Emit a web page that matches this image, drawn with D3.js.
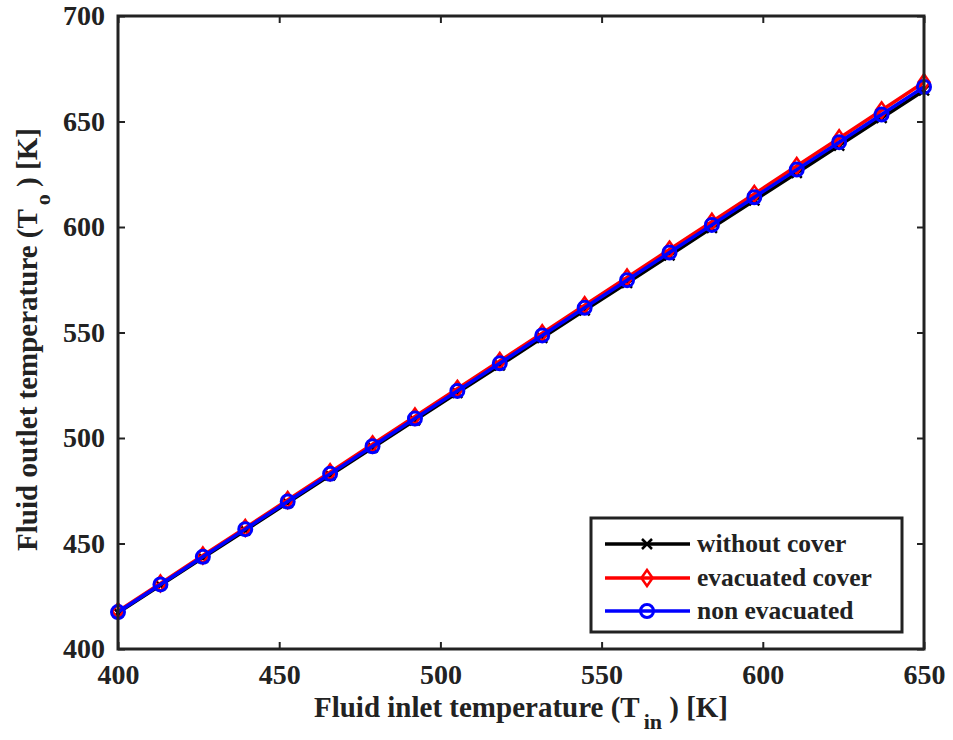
<!DOCTYPE html>
<html>
<head>
<meta charset="utf-8">
<script src="https://cdn.jsdelivr.net/npm/d3@7"></script>
<style>
body{margin:0;background:#fff;}
text{font-family:"Liberation Serif","Times New Roman",serif;font-weight:bold;fill:#222;}
</style>
</head>
<body>
<svg id="chart" width="953" height="740"></svg>
<script>
const inletT = [400, 413.16, 426.32, 439.47, 452.63, 465.79, 478.95, 492.11, 505.26, 518.42, 531.58, 544.74, 557.89, 571.05, 584.21, 597.37, 610.53, 623.68, 636.84, 650];
const withoutCover = [417.2, 430.2, 443.2, 456.2, 469.3, 482.3, 495.4, 508.4, 521.4, 534.4, 547.5, 560.5, 573.5, 586.5, 599.6, 612.6, 625.6, 638.6, 651.7, 664.7];
const evacuatedCover = [417.9, 431.1, 444.3, 457.4, 470.6, 483.8, 497.0, 510.2, 523.3, 536.5, 549.7, 562.9, 576.1, 589.3, 602.5, 615.7, 628.9, 642.1, 655.3, 668.6];
const nonEvacuated = [417.5, 430.6, 443.7, 456.8, 469.9, 483.0, 496.1, 509.2, 522.3, 535.4, 548.6, 561.7, 574.8, 587.9, 601.0, 614.1, 627.2, 640.2, 653.3, 666.4];
const xTicks = [400, 450, 500, 550, 600, 650];
const yTicks = [400, 450, 500, 550, 600, 650, 700];
const seriesNames = ["without cover", "evacuated cover", "non evacuated"];
const seriesColors = ["#000000", "#ff0000", "#0000ff"];
const seriesMarkers = ["x", "diamond", "circle"];

const svg = d3.select("#chart");
const L = 118, R = 924, T = 16, B = 649;
const x = d3.scaleLinear().domain([400, 650]).range([L, R]);
const y = d3.scaleLinear().domain([400, 700]).range([B, T]);

const tickLen = 7;
const axisCol = "#222";
const tickFont = 28;
const gAx = svg.append("g");
gAx.append("g").attr("transform", `translate(0,${B})`)
  .call(d3.axisBottom(x).tickValues(xTicks).tickSizeInner(-tickLen).tickSizeOuter(0).tickPadding(15).tickFormat(d3.format("d")))
  .call(g => { g.select(".domain").remove(); g.selectAll("line").attr("stroke", axisCol).attr("stroke-width", 2);
    g.selectAll("text").attr("font-size", tickFont).attr("font-family", "Liberation Serif").attr("font-weight", "bold").attr("fill", "#222").attr("dy", "0.71em"); });
gAx.append("g").attr("transform", `translate(0,${T})`)
  .call(d3.axisTop(x).tickValues(xTicks).tickSizeInner(-tickLen).tickSizeOuter(0).tickFormat(""))
  .call(g => { g.select(".domain").remove(); g.selectAll("line").attr("stroke", axisCol).attr("stroke-width", 2); });
gAx.append("g").attr("transform", `translate(${L},0)`)
  .call(d3.axisLeft(y).tickValues(yTicks).tickSizeInner(-tickLen).tickSizeOuter(0).tickPadding(13).tickFormat(d3.format("d")))
  .call(g => { g.select(".domain").remove(); g.selectAll("line").attr("stroke", axisCol).attr("stroke-width", 2);
    g.selectAll("text").attr("font-size", tickFont).attr("font-family", "Liberation Serif").attr("font-weight", "bold").attr("fill", "#222"); });
gAx.append("g").attr("transform", `translate(${R},0)`)
  .call(d3.axisRight(y).tickValues(yTicks).tickSizeInner(-tickLen).tickSizeOuter(0).tickFormat(""))
  .call(g => { g.select(".domain").remove(); g.selectAll("line").attr("stroke", axisCol).attr("stroke-width", 2); });

const allSeries = [withoutCover, evacuatedCover, nonEvacuated];
const line = d3.line().x(d => x(d[0])).y(d => y(d[1]));
function drawMarker(g, type, cx, cy, color) {
  if (type === "x") {
    const s = 5;
    g.append("path").attr("d", `M${cx-s},${cy-s}L${cx+s},${cy+s}M${cx-s},${cy+s}L${cx+s},${cy-s}`)
      .attr("stroke", color).attr("stroke-width", 2.5).attr("fill", "none");
  } else if (type === "diamond") {
    const s = 8;
    g.append("path").attr("d", `M${cx},${cy-s}L${cx+s*0.7},${cy}L${cx},${cy+s}L${cx-s*0.7},${cy}Z`)
      .attr("stroke", color).attr("stroke-width", 2.5).attr("fill", "none");
  } else {
    g.append("circle").attr("cx", cx).attr("cy", cy).attr("r", 6.5)
      .attr("stroke", color).attr("stroke-width", 3).attr("fill", "none");
  }
}
allSeries.forEach((vals, i) => {
  const pts = inletT.map((t, j) => [t, vals[j]]);
  const g = svg.append("g");
  g.append("path").datum(pts).attr("d", line).attr("stroke", seriesColors[i]).attr("stroke-width", 3.5).attr("fill", "none");
  pts.forEach(p => drawMarker(g, seriesMarkers[i], x(p[0]), y(p[1]), seriesColors[i]));
});

svg.append("rect").attr("x", L).attr("y", T).attr("width", R - L).attr("height", B - T)
  .attr("fill", "none").attr("stroke", axisCol).attr("stroke-width", 3);

const lg = svg.append("g");
lg.append("rect").attr("x", 591).attr("y", 518).attr("width", 311).attr("height", 114)
  .attr("fill", "#fff").attr("stroke", axisCol).attr("stroke-width", 3);
const rowsY = [544, 578, 611];
seriesNames.forEach((name, i) => {
  lg.append("line").attr("x1", 605).attr("x2", 690).attr("y1", rowsY[i]).attr("y2", rowsY[i])
    .attr("stroke", seriesColors[i]).attr("stroke-width", 3.5);
  drawMarker(lg, seriesMarkers[i], 647, rowsY[i], seriesColors[i]);
  lg.append("text").attr("x", 697).attr("y", rowsY[i]).attr("dy", "0.33em").attr("font-size", 25.5).text(name);
});

const labFont = 29;
const xl = svg.append("text").attr("x", (L + R) / 2).attr("y", 717).attr("text-anchor", "middle").attr("font-size", labFont);
xl.append("tspan").text("Fluid inlet temperature (T");
xl.append("tspan").attr("dy", 12).attr("dx", 4).attr("font-size", 22).text("in");
xl.append("tspan").attr("dy", -12).text(" ) [K]");

const yl = svg.append("text").attr("transform", `translate(37,${(T + B) / 2 + 7}) rotate(-90)`).attr("text-anchor", "middle").attr("font-size", labFont);
yl.append("tspan").text("Fluid outlet temperature (T");
yl.append("tspan").attr("dy", 13).attr("dx", 4).attr("font-size", 22).text("o");
yl.append("tspan").attr("dy", -13).text(" ) [K]");
</script>
</body>
</html>
